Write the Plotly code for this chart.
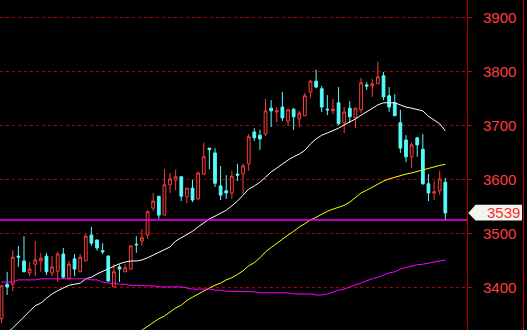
import plotly.graph_objects as go

# ---- data ----
opens = [3343, 3407, 3407, 3459, 3450, 3428, 3444, 3450, 3459, 3428,
         3431, 3463, 3417, 3454, 3430, 3450, 3498, 3489, 3469, 3459,
         3402, 3439, 3430, 3435, 3481, 3487, 3498, 3548, 3570, 3535,
         3591, 3600, 3606, 3569, 3585, 3565, 3611, 3659, 3650, 3589,
         3580, 3576, 3611, 3611, 3630, 3689, 3683, 3685, 3733, 3726,
         3735, 3709, 3731, 3713, 3719, 3763, 3783, 3769, 3731, 3728,
         3743, 3706, 3733, 3715, 3730, 3776, 3774, 3778, 3793, 3756,
         3743, 3706, 3674, 3643, 3678, 3657, 3593, 3576, 3580, 3596]
highs = [3406, 3430, 3470, 3478, 3496, 3448, 3487, 3465, 3465, 3459,
         3467, 3474, 3450, 3463, 3463, 3500, 3513, 3489, 3483, 3461,
         3444, 3444, 3444, 3478, 3496, 3509, 3544, 3576, 3570, 3620,
         3613, 3619, 3606, 3585, 3600, 3615, 3669, 3659, 3659, 3626,
         3609, 3617, 3630, 3630, 3685, 3696, 3693, 3750, 3748, 3735,
         3763, 3730, 3733, 3728, 3761, 3785, 3804, 3774, 3757, 3750,
         3772, 3735, 3746, 3733, 3789, 3781, 3787, 3819, 3800, 3772,
         3759, 3730, 3683, 3669, 3680, 3685, 3611, 3598, 3617, 3604]
lows = [3335, 3387, 3394, 3439, 3430, 3422, 3422, 3430, 3424, 3422,
        3411, 3417, 3417, 3422, 3430, 3450, 3478, 3469, 3463, 3411,
        3402, 3411, 3430, 3435, 3465, 3478, 3491, 3543, 3528, 3535,
        3576, 3581, 3561, 3557, 3559, 3563, 3609, 3620, 3587, 3563,
        3565, 3565, 3598, 3574, 3617, 3672, 3656, 3681, 3698, 3707,
        3709, 3700, 3693, 3698, 3719, 3752, 3770, 3726, 3720, 3722,
        3702, 3687, 3706, 3696, 3724, 3767, 3754, 3778, 3748, 3726,
        3719, 3650, 3633, 3622, 3643, 3591, 3561, 3563, 3572, 3526]
closes = [3404, 3402, 3457, 3457, 3430, 3435, 3452, 3455, 3430, 3439,
          3463, 3420, 3444, 3435, 3457, 3496, 3483, 3474, 3467, 3413,
          3430, 3435, 3437, 3478, 3480, 3493, 3541, 3561, 3535, 3591,
          3602, 3606, 3570, 3585, 3563, 3613, 3643, 3656, 3594, 3572,
          3576, 3607, 3609, 3626, 3680, 3678, 3676, 3728, 3728, 3728,
          3715, 3730, 3717, 3724, 3756, 3783, 3772, 3735, 3730, 3731,
          3704, 3726, 3717, 3733, 3780, 3774, 3778, 3791, 3754, 3735,
          3719, 3659, 3643, 3665, 3665, 3593, 3576, 3578, 3602, 3539]

ma_white = [3305, 3317, 3326, 3337, 3347, 3357, 3367, 3372, 3381, 3389,
            3395, 3400, 3405, 3407, 3409, 3417, 3420, 3426, 3431, 3436,
            3441, 3445, 3448, 3450, 3450, 3452, 3456, 3461, 3465, 3470,
            3476, 3487, 3493, 3498, 3505, 3513, 3520, 3528, 3533, 3539,
            3544, 3552, 3561, 3572, 3583, 3589, 3596, 3605, 3615, 3622,
            3630, 3637, 3643, 3648, 3655, 3667, 3676, 3683, 3687, 3691,
            3696, 3702, 3707, 3713, 3720, 3726, 3733, 3739, 3743, 3743,
            3743, 3739, 3735, 3733, 3731, 3728, 3718, 3711, 3704, 3691]
ma_yellow = [None] * 24 + [
            3315, 3322, 3330, 3336, 3343, 3348,
            3355, 3363, 3368, 3377, 3383, 3389, 3394, 3400, 3405, 3409,
            3415, 3419, 3425, 3432, 3441, 3447, 3456, 3467, 3475, 3483,
            3491, 3498, 3505, 3513, 3519, 3526, 3531, 3537, 3542, 3546,
            3550, 3553, 3559, 3567, 3576, 3581, 3587, 3593, 3598, 3602,
            3605, 3609, 3611, 3613, 3616, 3618, 3621, 3624, 3627, 3629]
ma_magenta = [3411, 3411, 3411, 3415, 3415, 3415, 3415, 3417, 3417, 3417,
              3417, 3417, 3417, 3417, 3417, 3417, 3415, 3415, 3411, 3409,
              3409, 3407, 3407, 3405, 3405, 3404, 3404, 3404, 3402, 3402,
              3402, 3402, 3402, 3400, 3398, 3398, 3398, 3398, 3396, 3396,
              3394, 3394, 3393, 3393, 3393, 3393, 3391, 3391, 3391, 3391,
              3391, 3391, 3389, 3389, 3389, 3389, 3387, 3387, 3389, 3393,
              3396, 3398, 3402, 3405, 3409, 3413, 3417, 3420, 3424, 3428,
              3430, 3435, 3438, 3441, 3443, 3444, 3446, 3447, 3449, 3452]

y_ticks = [3400, 3500, 3600, 3700, 3800, 3900]
support_level = lows[-1]

# ---- figure ----
idx = list(range(len(closes)))
W, H = 527, 330
plot_w = 467

fig = go.Figure()
fig.add_trace(go.Candlestick(
    x=idx, open=opens, high=highs, low=lows, close=closes,
    increasing=dict(line=dict(color="#FF3C3C", width=1), fillcolor="#000000"),
    decreasing=dict(line=dict(color="#54FCFC", width=1), fillcolor="#54FCFC"),
    whiskerwidth=0, hoverinfo="skip", showlegend=False,
))
for vals, col in [(ma_white, "#FFFFFF"), (ma_yellow, "#FFFF00"), (ma_magenta, "#FF00FF")]:
    fig.add_trace(go.Scatter(x=idx, y=vals, mode="lines",
                             line=dict(color=col, width=1),
                             hoverinfo="skip", showlegend=False))

last = closes[-1]
fig.add_shape(type="line", xref="paper", yref="y", x0=0, x1=1,
              y0=support_level, y1=support_level,
              line=dict(color="#FF00FF", width=1.6))
# right border
fig.add_shape(type="line", xref="paper", yref="paper",
              x0=523.5 / plot_w, x1=523.5 / plot_w, y0=0, y1=1,
              line=dict(color="#C00000", width=1))
# price label box
tip = 468.3 / plot_w
bx0 = 475.5 / plot_w
bx1 = 522 / plot_w
top = last + 15
bot = last - 14
fig.add_shape(type="path", xref="paper", yref="y",
              path=f"M {tip},{last} L {bx0},{top} L {bx1},{top} L {bx1},{bot} L {bx0},{bot} Z",
              fillcolor="#F0F5EE", line=dict(width=0))
fig.add_annotation(xref="paper", yref="y", x=521.5 / plot_w, y=last,
                   xanchor="right", yanchor="middle", showarrow=False,
                   text=str(last),
                   font=dict(family="Arial, Liberation Sans", size=15, color="#FF2A2A"))

fig.update_layout(
    width=W, height=H,
    margin=dict(l=0, r=W - plot_w, t=0, b=0),
    paper_bgcolor="#000000", plot_bgcolor="#000000",
    showlegend=False,
    hovermode=False,
)
fig.update_xaxes(range=[-0.27, 82.86], visible=False, rangeslider=dict(visible=False),
                 showgrid=False, zeroline=False, fixedrange=True)
fig.update_yaxes(
    range=[3322.2, 3933.3], side="right",
    tickmode="array", tickvals=y_ticks, ticktext=[str(v) for v in y_ticks],
    showgrid=True, gridcolor="#B00000", griddash="dot", gridwidth=1,
    showline=True, linecolor="#C00000", linewidth=1,
    ticks="outside", ticklen=4, tickcolor="#C00000",
    tickfont=dict(family="Arial, Liberation Sans", size=15, color="#FF3C3C"),
    ticklabelstandoff=8,
    zeroline=False, fixedrange=True,
)

fig.write_html("out.html")
